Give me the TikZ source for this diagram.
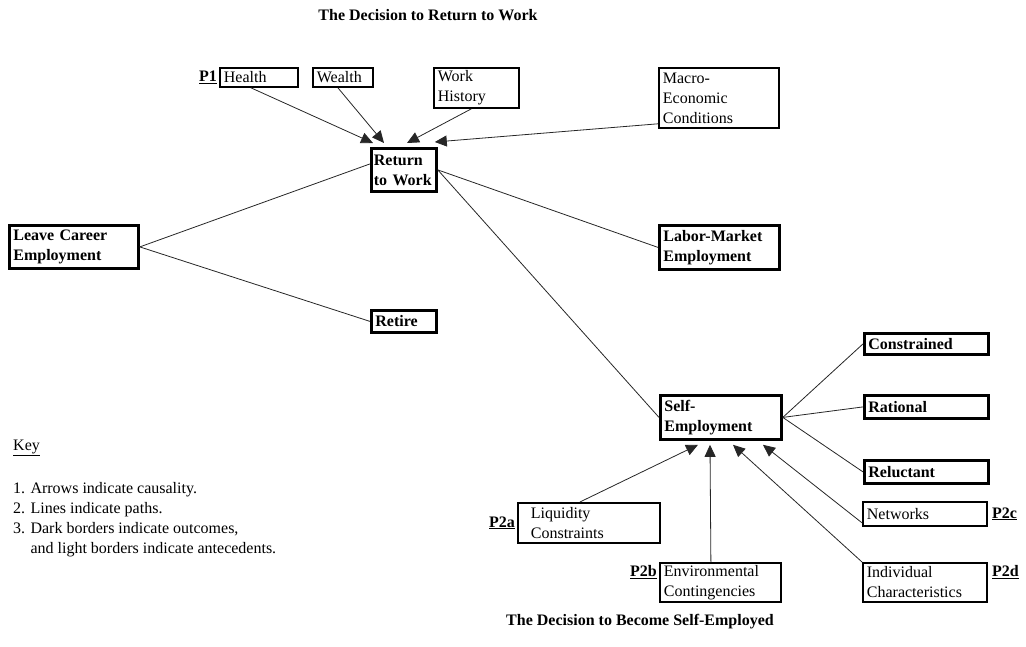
\documentclass[tikz,border=0pt]{standalone}
\usepackage{fontspec}
\setmainfont{Liberation Serif}
\usetikzlibrary{arrows.meta, positioning}
\newcommand{\boxfont}{\fontsize{16}{20}\selectfont}
\tikzset{
    outcome/.style = {rectangle, draw, line width=2.8pt, anchor=north west, align=left, inner xsep=4pt, inner ysep=1pt, font=\boxfont\bfseries},
    antecedent/.style = {rectangle, draw, line width=1.8pt, anchor=north west, align=left, inner xsep=4pt, inner ysep=1pt, font=\boxfont},
    plabel/.style = {font=\boxfont\bfseries, inner sep=0pt},
    keytext/.style = {font=\boxfont, align=left, inner sep=0pt},
    title/.style = {font=\boxfont\bfseries},
    line/.style = {draw, line width=0.8pt, black!85},
    arrowline/.style = {draw, line width=0.8pt, black!85, -{Triangle[length=12pt,width=11pt]}}
}

\begin{document}
\begin{tikzpicture}[x=1pt, y=-1pt]
        \useasboundingbox (0,0) rectangle (1026,646);

        % Titles
        \node [title] (toptitle) at (428,15) {The Decision to Return to Work};
        \node [title] (bottomtitle) at (640,622) {The Decision to Become Self-Employed};

        % Antecedents of returning to work
        \node [antecedent, text width=70pt, minimum height=19pt] (health) at (219,67) {Health};
        \node [plabel, left=2pt of health] (p1) {\underline{P1}};
        \node [antecedent, text width=52pt, minimum height=19pt] (wealth) at (312,67) {Wealth};
        \node [antecedent, text width=77pt, minimum height=40pt] (work) at (433,67) {Work\\History};
        \node [antecedent, text width=112pt, minimum height=60pt] (macro) at (658,67) {Macro-\\Economic\\Conditions};

        % Outcomes of leaving career employment
        \node [outcome, inner xsep=2.5pt, text width=60pt, minimum height=43pt] (ret) at (370,147) {Return\\to Work};
        \node [outcome, text width=121pt, minimum height=43pt] (leave) at (8,224) {Leave Career\\Employment};
        \node [outcome, text width=57pt, minimum height=22pt] (retire) at (370,309) {Retire};
        \node [outcome, text width=112pt, minimum height=44pt] (labor) at (658,224) {Labor-Market\\Employment};
        \node [outcome, text width=113pt, minimum height=44pt] (self) at (659,394) {Self-\\Employment};

        % Types of self-employment
        \node [outcome, text width=116pt, minimum height=21pt] (constr) at (863,332) {Constrained};
        \node [outcome, text width=116pt, minimum height=23pt] (rational) at (863,394) {Rational};
        \node [outcome, text width=116pt, minimum height=23pt] (reluct) at (863,459) {Reluctant};

        % Antecedents of self-employment
        \node [antecedent, text width=134pt, minimum height=40pt] (liq) at (517,502) {\hspace*{9pt}Liquidity\\\hspace*{9pt}Constraints};
        \node [plabel, left=2pt of liq.west] (p2a) {\underline{P2a}};
        \node [antecedent, text width=113pt, minimum height=39pt] (env) at (659,562) {Environmental\\Contingencies};
        \node [plabel, left=2pt of env.north west, anchor=north east, yshift=-3pt] (p2b) {\underline{P2b}};
        \node [antecedent, text width=116pt, minimum height=24pt] (networks) at (862,501) {Networks};
        \node [plabel, right=4pt of networks] (p2c) {\underline{P2c}};
        \node [antecedent, text width=116pt, minimum height=39pt] (indiv) at (862,562) {Individual\\Characteristics};
        \node [plabel, right=4pt of indiv.north east, anchor=north west, yshift=-3pt] (p2d) {\underline{P2d}};

        % Key
        \node [keytext, anchor=west] (key) at (13,448) {\underline{Key}};
        \node [keytext, below right=26pt and 0pt of key.south west] (keylist) {1. Arrows indicate causality.\\2. Lines indicate paths.\\3. Dark borders indicate outcomes,\\\phantom{3. }and light borders indicate antecedents.};

        % Arrows into return to work
        \path [arrowline] ([xshift=-8pt]health.south) -- ([xshift=3pt,yshift=4pt]ret.north west);
        \path [arrowline] ([xshift=-5pt]wealth.south) -- ([xshift=14pt,yshift=4pt]ret.north west);
        \path [arrowline] ([xshift=-5pt]work.south) -- ([xshift=37pt,yshift=4pt]ret.north west);
        \path [arrowline] ([yshift=5pt]macro.south west) -- ([xshift=-3pt,yshift=5pt]ret.north east);

        % Paths
        \path [line] (leave.east) -- ([yshift=6pt]ret.west);
        \path [line] (leave.east) -- (retire.west);
        \path [line] (ret.east) -- (labor.west);
        \path [line] (ret.east) -- (self.west);
        \path [line] (self.east) -- (constr.west);
        \path [line] (self.east) -- (rational.west);
        \path [line] (self.east) -- (reluct.west);

        % Arrows into self-employment
        \path [arrowline] ([xshift=-9pt]liq.north) -- ([xshift=39pt,yshift=-4pt]self.south west);
        \path [arrowline] ([xshift=-9.5pt]env.north) -- ([xshift=51pt,yshift=-4pt]self.south west);
        \path [arrowline] (indiv.north west) -- ([xshift=74pt,yshift=-4pt]self.south west);
        \path [arrowline] ([yshift=4pt]networks.south west) -- ([xshift=104pt,yshift=-4pt]self.south west);

    \end{tikzpicture}
\end{document}
